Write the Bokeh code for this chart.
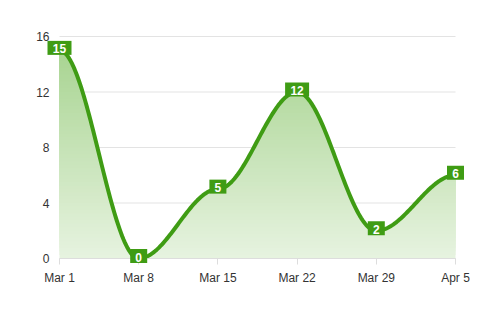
import numpy as np
from bokeh.plotting import figure
from bokeh.models import Range1d, FixedTicker, LinearAxis, ColumnDataSource
from bokeh.core.properties import value
from bokeh.embed import file_html
from bokeh.resources import INLINE

# ---- data ----
dates = ["Mar 1", "Mar 8", "Mar 15", "Mar 22", "Mar 29", "Apr 5"]
values = [15, 0, 5, 12, 2, 6]
y_ticks = [0, 4, 8, 12, 16]

FONT = "Liberation Sans"
LINE_C = "#3f9c14"
TOP_C = np.array([0xa4, 0xd2, 0x8c])
BOT_C = np.array([0xe7, 0xf3, 0xe0])

xs = list(range(len(dates)))
n = len(dates)

# smooth curve: cubic segments with horizontal tangents at each point
cx, cy = [], []
for i in range(n - 1):
    x0, x1 = xs[i], xs[i + 1]
    y0, y1 = values[i], values[i + 1]
    h = x1 - x0
    t = np.linspace(0, 1, 60)
    P = [(x0, y0), (x0 + 0.35 * h, y0), (x1 - 0.35 * h, y1), (x1, y1)]
    bx = ((1 - t) ** 3) * P[0][0] + 3 * ((1 - t) ** 2) * t * P[1][0] + 3 * (1 - t) * t ** 2 * P[2][0] + t ** 3 * P[3][0]
    by = ((1 - t) ** 3) * P[0][1] + 3 * ((1 - t) ** 2) * t * P[1][1] + 3 * (1 - t) * t ** 2 * P[2][1] + t ** 3 * P[3][1]
    if i > 0:
        bx, by = bx[1:], by[1:]
    cx.extend(bx.tolist())
    cy.extend(by.tolist())
cx = np.array(cx)
cy = np.array(cy)

# ---- layout: plot area (in px) inside a full-canvas frame ----
W, H = 496, 312
L, R, T, B = 59, 455, 36, 258
ymax = float(y_ticks[-1])
ppx = (R - L) / (n - 1)          # px per x step
ppy = (B - T) / ymax             # px per y unit
xr = Range1d(-L / ppx, (W - L) / ppx)
yr = Range1d(-(H - B) / ppy, ymax + T / ppy)

p = figure(width=W, height=H, output_backend="svg", toolbar_location=None,
           x_range=xr, y_range=yr, x_axis_location=None, y_axis_location=None,
           min_border=0)
p.outline_line_color = None
p.background_fill_color = "white"
p.border_fill_color = "white"
p.xgrid.visible = False
p.ygrid.visible = False

# horizontal grid lines limited to the plot area
p.segment(x0=[0] * len(y_ticks), x1=[n - 1] * len(y_ticks), y0=y_ticks, y1=y_ticks,
          line_color="#e3e3e3", line_width=1)

# gradient fill via overlapping horizontal bands (each from its base up to the curve)
nb = 64
edges = np.linspace(0, ymax, nb + 1)
for k in range(nb):
    a = edges[k]
    frac = (a + (ymax / nb) / 2) / ymax
    col = BOT_C + (TOP_C - BOT_C) * frac
    hexc = "#%02x%02x%02x" % tuple(int(round(c)) for c in col)
    up = np.maximum(cy, a)
    p.varea(x=cx, y1=np.full_like(cx, a), y2=up, fill_color=hexc, fill_alpha=1.0)

p.line(cx, cy, line_color=LINE_C, line_width=4, line_join="round", line_cap="round")

# axes at fixed locations
xaxis = LinearAxis(fixed_location=0, bounds=(0, n - 1), ticker=FixedTicker(ticks=xs),
                   major_label_overrides={i: d for i, d in enumerate(dates)})
xaxis.axis_line_color = "#dddddd"
xaxis.major_tick_line_color = "#dddddd"
xaxis.major_tick_out = 6
xaxis.major_tick_in = 0
xaxis.minor_tick_line_color = None
xaxis.major_label_standoff = 6
xaxis.major_label_text_font = FONT
xaxis.major_label_text_font_size = "12px"
xaxis.major_label_text_color = "#333333"
p.add_layout(xaxis, "below")

yaxis = LinearAxis(fixed_location=0, bounds=(0, ymax), ticker=FixedTicker(ticks=y_ticks))
yaxis.axis_line_color = None
yaxis.major_tick_line_color = None
yaxis.minor_tick_line_color = None
yaxis.major_tick_out = 0
yaxis.major_label_standoff = 10
yaxis.major_label_text_font = FONT
yaxis.major_label_text_font_size = "12px"
yaxis.major_label_text_color = "#333333"
p.add_layout(yaxis, "left")

# data labels
lbl = ColumnDataSource(dict(
    x=xs,
    y=[v + 2.5 / ppy for v in values],
    t=[str(v) for v in values],
    w=[10 + 7 * len(str(v)) for v in values],
))
p.rect(x="x", y="y", width="w", height=14, width_units="screen", height_units="screen",
       source=lbl, fill_color=LINE_C, line_color=None, level="overlay")
p.text(x="x", y="y", text="t", source=lbl, text_color="white", text_font=value(FONT),
       text_font_size="12px", text_font_style="bold", text_align="center",
       text_baseline="middle", y_offset=1, level="overlay")

open("out.html", "w").write(file_html(p, INLINE))
